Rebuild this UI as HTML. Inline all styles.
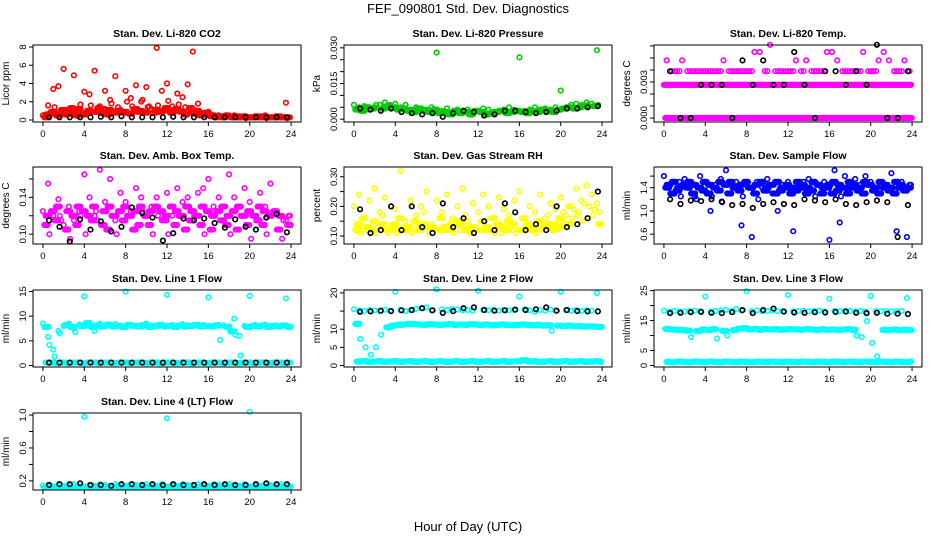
<!DOCTYPE html>
<html><head><meta charset="utf-8">
<style>
html,body{margin:0;padding:0;background:#fff;}
svg{display:block;font-family:"Liberation Sans",sans-serif;}
</style></head>
<body>
<svg id="chart" width="936" height="540" viewBox="0 0 936 540" xmlns="http://www.w3.org/2000/svg">
<rect width="936" height="540" fill="#fff"/>
<text x="468" y="13" text-anchor="middle" font-size="13">FEF_090801  Std. Dev. Diagnostics</text>
<text x="468" y="531" text-anchor="middle" font-size="13">Hour of Day (UTC)</text>
<g id="panels"></g>
</svg>
<script>
// ---------- data ----------
const xTickLabels = ["0","4","8","12","16","20","24"];
// Panel 1 CO2
const co2A = [0.5,1.6,3.4,3.7,5.6,1.2,4.9,0.7,3.1,2.8,5.4,1.5,3.2,2.2,4.8,1.1,3.2,2.4,3.8,2.0,3.6,1.2,7.9,3.2,4.0,1.5,2.9,2.5,3.9,7.5,1.8,0.6,0.9,0.4,0.5,0.3,0.4,0.5,0.3,0.4,0.3,0.4,0.3,0.5,0.3,0.4,0.3,1.9];
const co2B = [0.3,0.7,1.4,0.9,0.6,1.3,0.5,1.7,0.8,1.6,0.9,1.2,0.6,1.8,1.0,0.8,2.0,1.5,0.9,2.2,1.4,0.8,1.6,1.1,2.1,1.0,1.7,0.6,1.3,0.7,0.5,0.8,0.4,0.3,0.4,0.5,0.3,0.4,0.3,0.2,0.3,0.4,0.3,0.2,0.3,0.4,0.3,0.2];
const co2C = [0.6,0.9,0.5,1.1,0.7,0.8,1.2,0.6,1.0,0.9,1.3,0.7,1.1,0.8,1.4,0.9,0.7,1.2,1.0,0.8,1.5,1.1,0.9,1.3,0.8,1.2,0.9,1.4,0.8,1.0,0.6,0.7,0.5,0.4,0.3,0.4,0.3,0.3,0.4,0.3,0.3,0.3,0.4,0.3,0.3,0.3,0.3,0.3];
const co2Black = [0.3,0.3,0.3,0.3,0.3,0.35,0.3,0.4,0.3,0.3,0.3,0.3,0.35,0.3,0.3,0.3,0.3,0.3,0.3,0.3,0.3,0.3,0.3,0.3];
// Panel 2 Pressure
const presA = [.006,.005,.0055,.004,.005,.006,.007,.006,.0065,.005,.006,.004,.005,.0045,.004,.005,.028,.0035,.0045,.003,.004,.0035,.004,.003,.0035,.0045,.004,.003,.0035,.004,.005,.004,.026,.0035,.004,.005,.004,.0045,.004,.005,.012,.005,.006,.0065,.006,.007,.0065,.029];
const presB = [.004,.0035,.005,.0045,.006,.0045,.0055,.005,.004,.0045,.0035,.003,.0045,.0035,.003,.004,.0025,.003,.002,.0035,.0025,.003,.002,.0035,.003,.002,.0025,.003,.0035,.0025,.003,.0035,.003,.0025,.0035,.003,.004,.0035,.003,.004,.0045,.005,.0045,.005,.0055,.006,.0055,.006];
const presBlack = [.0045,.004,.0035,.0045,.003,.0025,.002,.0025,.001,.0025,.0035,.003,.0015,.002,.0035,.0035,.003,.0025,.003,.0035,.0045,.0045,.005,.0055];
// Panel 3 Li-820 Temp
const tempA = [.00277,.00277,.00277,.00277,.00277,.00277,.00277,.00277,.00277,.00277,.00277,.00277,.00277,.00277,.00277,.00277,.00277,.00277,.00277,.00277,.00277,.00277,.00277,.00277,.00277,.00277,.00277,.00277,.00277,.00277,.00277,.00277,.00277,.00277,.00277,.00277,.00277,.00277,.00277,.00277,.00277,.00277,.00277,.00277,.00277,.00277,.00277,.00277];
const tempB = [0,0,0,0,0,0,0,0,0,0,0,0,0,0,0,0,0,0,0,0,0,0,0,0,0,0,0,0,0,0,0,0,0,0,0,0,0,0,0,0,0,0,0,0,0,0,0,0];
const tempC = [.0048,.0039,.0039,.0048,.0039,.0039,.0039,.0039,.0039,.0039,.0039,.0048,.0039,.0039,.0039,.0039,.0039,.0055,.0055,.0039,.0061,.0039,.0039,.0039,.0039,.0048,.0039,.0048,.0039,.0039,.0039,.0055,.0055,.0048,.0039,.0039,.0039,.0039,.0055,.0039,.0039,.0048,.0055,.0048,.0039,.0039,.0048,.0039];
const tempBlack = [.0039,0,0,.00277,.00277,.00277,0,.0048,.00277,.0048,.00277,.00277,.0055,.00277,0,.0039,.0039,.00277,.0039,.00277,.0061,0,0,.0039];
// Panel 4 Amb Box Temp
const ambA = [.125,.155,.12,.138,.11,.13,.115,.125,.165,.14,.12,.17,.135,.16,.115,.145,.135,.125,.15,.14,.12,.13,.14,.115,.145,.12,.15,.135,.14,.125,.145,.15,.16,.13,.14,.115,.165,.14,.13,.15,.135,.12,.145,.13,.155,.125,.12,.115];
const ambB = [.11,.1,.115,.12,.105,.095,.11,.12,.1,.115,.125,.11,.105,.12,.1,.115,.12,.105,.11,.125,.11,.1,.12,.115,.1,.11,.12,.105,.115,.12,.11,.1,.105,.12,.115,.11,.1,.105,.12,.11,.095,.115,.11,.1,.12,.105,.095,.11];
const ambC = [.12,.125,.13,.115,.125,.12,.13,.125,.12,.13,.115,.125,.13,.12,.125,.13,.12,.125,.13,.12,.125,.13,.125,.12,.13,.125,.12,.13,.125,.12,.13,.125,.12,.125,.13,.12,.125,.13,.12,.125,.12,.13,.125,.12,.125,.12,.115,.12];
const ambBlack = [.115,.108,.092,.116,.105,.114,.103,.108,.129,.123,.118,.093,.101,.117,.115,.117,.112,.107,.116,.108,.105,.118,.122,.102];
// Panel 5 Gas Stream RH
const rhA = [.2,.24,.16,.22,.26,.18,.23,.12,.19,.32,.15,.22,.17,.2,.25,.14,.22,.18,.24,.16,.2,.26,.15,.21,.18,.24,.2,.16,.23,.19,.17,.22,.25,.15,.2,.18,.24,.16,.21,.19,.23,.17,.2,.26,.22,.27,.24,.21];
const rhB = [.12,.11,.13,.12,.11,.14,.12,.13,.11,.12,.13,.11,.12,.14,.13,.11,.12,.13,.12,.11,.14,.12,.13,.11,.12,.13,.12,.11,.13,.12,.14,.11,.12,.13,.12,.11,.13,.14,.12,.13,.15,.14,.16,.17,.15,.16,.17,.14];
const rhC = [.14,.16,.12,.15,.13,.17,.11,.14,.16,.13,.12,.15,.14,.18,.11,.13,.16,.12,.14,.15,.12,.17,.11,.13,.15,.12,.16,.14,.11,.15,.13,.12,.16,.14,.13,.15,.12,.17,.14,.16,.18,.2,.19,.18,.21,.2,.19,.18];
const rhBlack = [.19,.11,.12,.2,.12,.2,.13,.11,.21,.13,.16,.11,.15,.12,.21,.18,.12,.14,.12,.2,.13,.14,.16,.25];
// Panel 6 Sample Flow
const sfA = [1.6,1.45,1.3,1.5,1.55,1.4,1.25,1.6,1.5,1.0,1.45,1.55,1.7,1.3,1.5,0.75,1.45,0.55,1.5,1.4,1.55,1.3,1.0,1.45,1.5,0.65,1.4,1.5,1.55,1.35,1.45,1.5,0.5,1.7,0.8,1.6,1.4,1.55,1.45,1.6,1.5,1.35,1.45,1.4,1.65,0.65,1.5,0.55];
const sfB = [1.4,1.3,1.35,1.25,1.4,1.3,1.2,1.35,1.3,1.25,1.35,1.15,1.3,1.4,1.35,1.25,1.4,1.3,1.2,1.35,1.45,1.3,1.35,1.4,1.3,1.35,1.4,1.3,1.35,1.25,1.3,1.4,1.3,1.35,1.25,1.3,1.4,1.35,1.3,1.45,1.35,1.3,1.4,1.35,1.3,1.4,1.35,1.4];
const sfC = [1.45,1.5,1.4,1.45,1.5,1.45,1.4,1.5,1.45,1.4,1.5,1.45,1.5,1.4,1.45,1.5,1.4,1.45,1.5,1.4,1.45,1.5,1.4,1.45,1.4,1.5,1.45,1.4,1.5,1.45,1.4,1.45,1.5,1.45,1.4,1.5,1.45,1.4,1.5,1.45,1.4,1.5,1.45,1.4,1.5,1.45,1.4,1.45];
const sfBlack = [1.2,1.12,1.18,1.17,1.2,1.16,1.1,1.12,1.05,1.12,1.15,1.12,1.1,1.2,1.18,1.15,1.2,1.12,1.1,1.15,1.18,1.15,0.55,1.1];
// Panel 7 Line 1 Flow
const l1A = [8.5,5.8,3.2,7,8,8.5,7.5,8.3,14,8.2,7,8.5,8,8.2,8.4,8.1,15,8.3,8,8.2,8.5,8.1,8,8.3,14.3,8.2,8,8.4,8.1,8,8.3,8.2,13.8,8,8.2,8.1,7.5,9.5,6,8,14.1,8.2,8,8.3,8,8.1,8,13.6];
const l1B = [7.8,4.2,1.8,6.5,8.2,7.8,6.8,8,8.6,7.8,8.1,7.9,8.3,7.9,8,7.8,8.2,8,7.9,8.1,7.8,8,8.2,7.9,8,7.8,8.1,7.9,8,8.2,7.9,8,7.9,8.1,5.2,7.9,6.9,6.2,2,7.8,8,7.9,8.1,7.8,8,7.9,8.1,7.8];
const l1C = [0.6,0.6,0.5,0.6,0.5,0.6,0.6,0.5,0.6,0.6,0.5,0.6,0.6,0.5,0.6,0.6,0.5,0.6,0.6,0.5,0.6,0.6,0.5,0.6,0.6,0.5,0.6,0.6,0.5,0.6,0.6,0.5,0.6,0.6,0.5,0.6,0.6,0.5,0.6,0.6,0.5,0.6,0.6,0.5,0.6,0.6,0.5,0.6];
const l1Black = [0.6,0.6,0.6,0.6,0.6,0.6,0.6,0.6,0.6,0.6,0.6,0.6,0.6,0.6,0.6,0.6,0.6,0.6,0.6,0.6,0.6,0.6,0.6,0.6];
// Panel 8 Line 2 Flow
const l2A = [15.5,15.2,15,15.3,15.2,15,15.4,15.1,20.3,15.3,15,15.2,15.6,15.8,16,15.2,21,15.5,15.3,15.6,15.4,15.2,15.3,15.1,20.6,15.3,15.2,15.4,15.1,15.3,15.2,15.3,19,15.5,15.2,14.8,15.3,15.1,15.4,15.2,20.3,15.2,15.1,15.3,15.0,15.2,15.1,20];
const l2B = [11.5,7.3,5,3,5,8.5,10.5,11,11.2,11.3,11.5,11.4,11.3,11.2,11.4,11.3,11.2,11.3,11.4,11.2,11.3,11.2,11.4,11.3,11.2,11.3,11.1,11.2,11.3,11.2,11.1,11.2,11.3,11.2,11.1,11.2,11.0,11.1,9.6,11.0,10.9,11,10.8,10.9,10.7,10.8,10.7,10.6];
const l2C = [1.1,1.2,1,1.1,1.2,1,1.1,1.2,1,1.1,1.2,1,1.1,1.2,1,1.1,1.2,1,1.1,1.2,1,1.1,1.2,1,1.1,1.2,1,1.1,1.2,1,1.1,1.2,1.5,1.1,1.2,1,1.1,1.2,1,1.1,1.2,1,1.1,1.2,1,1.1,1.2,1];
const l2Black = [14.8,14.9,15.1,15.0,15.2,15.3,15.8,15.2,14.5,15.0,15.8,16.0,15.3,15.1,15.2,15.4,15.3,15.5,16.0,15.1,15.3,15.0,14.9,14.9];
// Panel 9 Line 3 Flow
const l3A = [18.3,18,18.2,18.1,18,18.2,18.3,18.1,23,18,18.2,18.4,18.6,18.2,18.9,18.3,24.8,18.2,18.4,18.1,18.2,18.3,18.1,18.2,23.5,18.1,18.2,18.3,18.1,18.2,18.3,18.1,22.3,18.2,18.1,18.3,18.2,18.1,18.2,18,23.2,18.2,18.1,18.2,18,18.1,18.2,22.5];
const l3B = [12.2,12,11.9,11.8,11.6,9.5,11.5,12,11.8,12.1,9,11.5,10,11.8,12.3,12.5,12,12.2,11.9,12.1,12,12.1,11.9,12,12.1,12,11.9,12.1,12,11.8,12.1,11.9,12,11.8,12,12.1,11.9,10,9.5,14.8,7.5,3,11.9,11.8,12,11.8,11.9,11.8];
const l3C = [1.2,1.1,1.3,1.2,1.1,1.3,1.2,1.1,1.3,1.2,1.1,1.3,1.2,1.1,1.3,1.2,1.1,1.3,1.2,1.1,1.3,1.2,1.1,1.3,1.2,1.1,1.3,1.2,1.1,1.3,1.2,1.1,1.3,1.2,1.1,1.3,1.2,1.1,1.3,1.2,1.1,1.3,1.2,1.1,1.3,1.2,1.1,1.3];
const l3Black = [17.5,17.6,17.8,17.9,17.6,17.5,17.8,18.5,17.5,18.5,19,18,17.7,17.6,17.8,17.7,17.9,18,17.6,17.5,17.6,17.3,17.3,17.2];
// Panel 10 Line 4 (LT) Flow
const l4A = [0.14,0.15,0.13,0.16,0.14,0.15,0.16,0.14,0.98,0.15,0.14,0.16,0.15,0.14,0.16,0.15,0.14,0.16,0.15,0.14,0.16,0.15,0.14,0.16,0.96,0.15,0.14,0.16,0.15,0.14,0.16,0.15,0.14,0.16,0.15,0.14,0.16,0.15,0.14,0.16,1.04,0.15,0.14,0.16,0.15,0.14,0.16,0.15];
const l4B = [0.12,0.13,0.12,0.13,0.12,0.13,0.12,0.13,0.12,0.13,0.12,0.13,0.12,0.13,0.12,0.13,0.12,0.13,0.12,0.13,0.12,0.13,0.12,0.13,0.12,0.13,0.12,0.13,0.12,0.13,0.12,0.13,0.12,0.13,0.12,0.13,0.12,0.13,0.12,0.13,0.12,0.13,0.12,0.13,0.12,0.13,0.12,0.13];
const l4Black = [0.15,0.16,0.16,0.17,0.15,0.15,0.14,0.16,0.16,0.15,0.16,0.15,0.16,0.15,0.15,0.16,0.15,0.16,0.15,0.15,0.16,0.17,0.16,0.16];

// ---------- layout ----------
const colL = [33, 344, 654], boxW = 268;
const rowT = [45, 167, 290, 413], boxH = 77;
const panels = [
 {name:"co2",title:"Stan. Dev. Li-820 CO2",ylab:"Licor ppm",c:0,r:0,ymin:-0.22,ymax:8.22,ticks:[0,2,4,6,8],labels:["0","2","4","6","8"],color:"#ff0000",series:[co2A,co2B,co2C],dense:[1,3,4],black:co2Black},
 {name:"pressure",title:"Stan. Dev. Li-820 Pressure",ylab:"kPa",c:1,r:0,ymin:-0.0012,ymax:0.0312,ticks:[0,.005,.01,.015,.02,.025,.03],labels:["0.000","","","0.015","","","0.030"],color:"#00cc00",series:[presA,presB],dense:[1,5],black:presBlack},
 {name:"li820-temp",title:"Stan. Dev. Li-820 Temp.",ylab:"degrees C",c:2,r:0,ymin:-0.00033,ymax:0.00608,ticks:[0,.001,.002,.003,.004,.005,.006],labels:["0.000","","","0.003","","",""],color:"#ff00ff",series:[tempA,tempB,tempC],dense:[6,6,2],black:tempBlack},
 {name:"amb-box-temp",title:"Stan. Dev. Amb. Box Temp.",ylab:"degrees C",c:0,r:1,ymin:0.0893,ymax:0.173,ticks:[.1,.12,.14,.16],labels:["0.10","","0.14",""],color:"#ff00ff",series:[ambA,ambB,ambC],dense:[1,3,4],black:ambBlack},
 {name:"gas-stream-rh",title:"Stan. Dev. Gas Stream RH",ylab:"percent",c:1,r:1,ymin:0.073,ymax:0.333,ticks:[.1,.15,.2,.25,.3],labels:["0.10","","0.20","","0.30"],color:"#ffff00",series:[rhA,rhB,rhC],dense:[1,5,3],black:rhBlack},
 {name:"sample-flow",title:"Stan. Dev. Sample Flow",ylab:"ml/min",c:2,r:1,ymin:0.43,ymax:1.757,ticks:[.6,.8,1,1.2,1.4,1.6],labels:["0.6","","1.0","","1.4",""],color:"#0000ff",series:[sfA,sfB,sfC],dense:[1,4,4],black:sfBlack},
 {name:"line1-flow",title:"Stan. Dev. Line 1 Flow",ylab:"ml/min",c:0,r:2,ymin:-0.3,ymax:15.3,ticks:[0,5,10,15],labels:["0","5","10","15"],color:"#00ffff",series:[l1A,l1B,l1C],dense:[1,6,6],black:l1Black},
 {name:"line2-flow",title:"Stan. Dev. Line 2 Flow",ylab:"ml/min",c:1,r:2,ymin:-0.4,ymax:20.8,ticks:[0,5,10,15,20],labels:["0","5","10","","20"],color:"#00ffff",series:[l2A,l2B,l2C],dense:[1,6,6],black:l2Black},
 {name:"line3-flow",title:"Stan. Dev. Line 3 Flow",ylab:"ml/min",c:2,r:2,ymin:-0.5,ymax:25.2,ticks:[0,5,10,15,20,25],labels:["0","5","","15","","25"],color:"#00ffff",series:[l3A,l3B,l3C],dense:[1,6,6],black:l3Black},
 {name:"line4-flow",title:"Stan. Dev. Line 4 (LT) Flow",ylab:"ml/min",c:0,r:3,ymin:0.089,ymax:1.025,ticks:[.2,.4,.6,.8,1],labels:["0.2","","0.6","","1.0"],color:"#00ffff",series:[l4A,l4B],dense:[1,6],black:l4Black}
];
const NS="http://www.w3.org/2000/svg";
function mk(tag,attrs,parent){const e=document.createElementNS(NS,tag);for(const k in attrs)e.setAttribute(k,attrs[k]);parent.appendChild(e);return e;}
function median(a){const s=a.slice().sort((x,y)=>x-y);return s[Math.floor(s.length/2)];}
const root=document.getElementById('panels');
panels.forEach(p=>{
  const L=colL[p.c],T=rowT[p.r],R=L+boxW,B=T+boxH;
  const xs=h=>L+boxW*(h+0.96)/25.92;
  const ys=v=>B-boxH*(v-p.ymin)/(p.ymax-p.ymin);
  const tol=0.07*(p.ymax-p.ymin);
  const g=mk('g',{},root);
  
  
  const t=mk('text',{x:(L+R)/2,y:T-8,'text-anchor':'middle','font-size':'10.5','font-weight':'bold'},g);
  t.textContent=p.title;
  
  
  const yl=mk('text',{x:0,y:0,'text-anchor':'middle','font-size':'10',transform:`translate(${L-24},${(T+B)/2}) rotate(-90)`},g);
  yl.textContent=p.ylab;
  
  
  const pts=mk('g',{fill:'none','stroke-width':'1.6'},g);
  
  
  p.series.forEach((s,si)=>{
    const med=median(s);
    s.forEach((v,i)=>{
      const rep=(Math.abs(v-med)<=tol)?p.dense[si]:1;
      for(let k=0;k<rep;k++){
        const h=i*0.5+si*0.13+k*(0.5/rep);
        if(h>24)continue;
        const c=mk('circle',{cx:xs(h).toFixed(1),cy:ys(v).toFixed(1),r:'2.3',stroke:p.color},pts);
        
        
      }
    });
  });
  p.black.forEach((v,i)=>{
    const c=mk('circle',{cx:xs(i+0.6).toFixed(1),cy:ys(v).toFixed(1),r:'2.3',stroke:'#000'},pts);
    
    
  });
  const bx=mk('rect',{x:L,y:T,width:boxW,height:boxH,fill:'none',stroke:'#000','stroke-width':'1'},g);
  
  
  xTickLabels.forEach(lb=>{
    const x=xs(+lb);
    mk('line',{x1:x,x2:x,y1:B,y2:B+4,stroke:'#000'},g);
    const tx=mk('text',{x:x,y:B+15,'text-anchor':'middle','font-size':'9.5'},g);
    tx.textContent=lb;
    
    
  });
  mk('line',{x1:xs(0),x2:xs(24),y1:B,y2:B,stroke:'#000'},g);
  p.ticks.forEach((tv,i)=>{
    const y=ys(tv);
    mk('line',{x1:L-4,x2:L,y1:y,y2:y,stroke:'#000'},g);
    if(p.labels[i]){
      const ty=mk('text',{x:0,y:0,'text-anchor':'middle','font-size':'9.5',transform:`translate(${L-7},${y}) rotate(-90)`},g);
      ty.textContent=p.labels[i];
      
      
    }
  });
});
</script>
</body></html>
